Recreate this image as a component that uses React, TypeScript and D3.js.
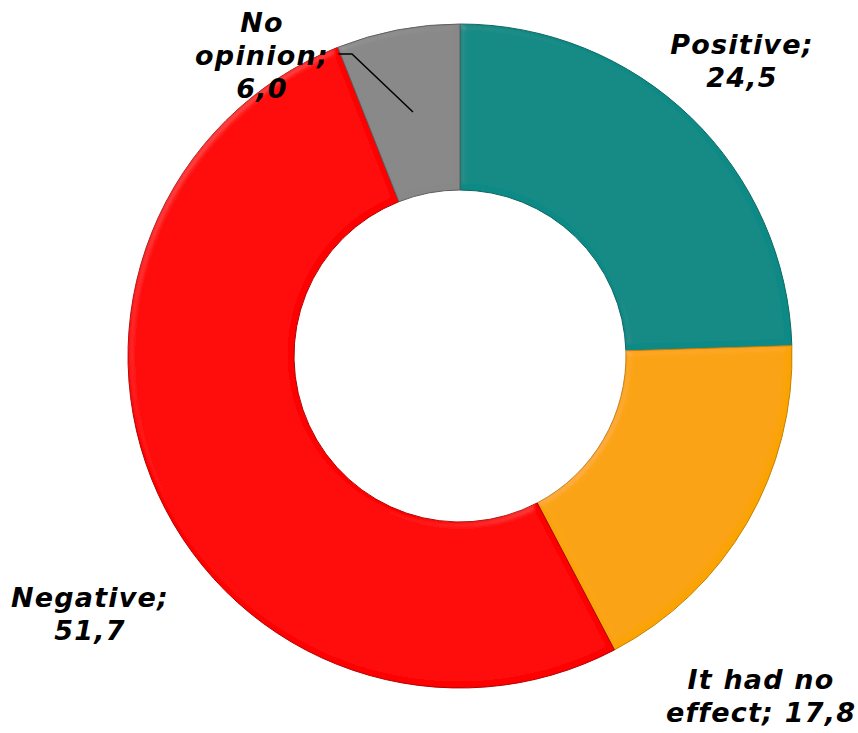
import React from "react";
import * as d3 from "d3";

const categories = ["Positive", "It had no effect", "Negative", "No opinion"];
const values = [24.5, 17.8, 51.7, 6.0];
const colors = ["#0B8A85", "#FBA306", "#FE0000", "#888888"];
const strokes = ["#086560", "#C27F05", "#B00000", "#5E5E5E"];
const labelLines = [
  ["Positive;", "24,5"],
  ["It had no", "effect; 17,8"],
  ["Negative;", "51,7"],
  ["No", "opinion;", "6,0"],
];

const W = 858;
const H = 733;
const cx = 460;
const cy = 356;
const rOuter = 332;
const rInner = 166;

// label anchor positions (centre x, first baseline y)
const labelPos = [
  { x: 742, y: 54 },
  { x: 761, y: 689 },
  { x: 90, y: 607 },
  { x: 262, y: 32 },
];
const lineH = 33;

export default function App() {
  const pie = d3
    .pie<number>()
    .sort(null)
    .value((d) => d)
    .startAngle(0)
    .endAngle(2 * Math.PI);
  const arcs = pie(values);
  const arc = d3.arc<d3.PieArcDatum<number>>().innerRadius(rInner).outerRadius(rOuter);

  return (
    <svg width={W} height={H} style={{ position: "absolute", left: 0, top: 0 }}>
      <defs>
        <filter id="bevel" x="-10%" y="-10%" width="120%" height="120%">
          <feGaussianBlur in="SourceAlpha" stdDeviation="3" result="blur" />
          <feSpecularLighting in="blur" surfaceScale="3" specularConstant="0.6" specularExponent="25" lightingColor="#ffffff" result="spec">
            <feDistantLight azimuth="225" elevation="40" />
          </feSpecularLighting>
          <feComposite in="spec" in2="SourceAlpha" operator="in" result="specIn" />
          <feComposite in="SourceGraphic" in2="specIn" operator="arithmetic" k1="0" k2="1" k3="0.08" k4="0" />
        </filter>
      </defs>
      <rect width={W} height={H} fill="#ffffff" />
      <g transform={`translate(${cx},${cy})`}>
        {arcs.map((a, i) => (
          <path
            key={categories[i]}
            d={arc(a) || ""}
            fill={colors[i]}
            stroke={strokes[i]}
            strokeWidth={1}
            filter="url(#bevel)"
          />
        ))}
      </g>
      <polyline points="338,54 352,54 413,112" fill="none" stroke="#000" strokeWidth={1.5} />
      {labelLines.map((lines, i) => (
        <text
          key={categories[i]}
          textAnchor="middle"
          fontFamily="'DejaVu Sans', Verdana, sans-serif"
          fontWeight="bold"
          fontStyle="italic"
          fontSize={27}
          letterSpacing={1.2}
          fill="#000"
        >
          {lines.map((l, j) => (
            <tspan key={j} x={labelPos[i].x} y={labelPos[i].y + j * lineH}>
              {l}
            </tspan>
          ))}
        </text>
      ))}
    </svg>
  );
}
